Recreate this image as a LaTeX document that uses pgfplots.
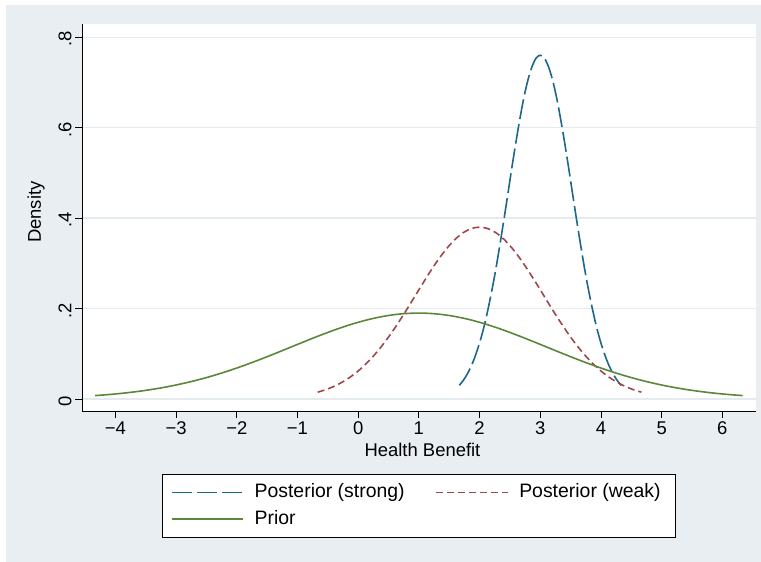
\documentclass[border=0pt]{standalone}
\usepackage{pgfplots}
\pgfplotsset{compat=1.18}
\usepackage{fontspec}
\setmainfont{Liberation Sans}
\definecolor{bgc}{RGB}{232,238,242}
\definecolor{gridc}{RGB}{228,235,239}
\definecolor{cblue}{RGB}{29,104,138}
\definecolor{cred}{RGB}{158,72,78}
\definecolor{cgreen}{RGB}{92,135,58}
\begin{document}
\begin{tikzpicture}
\useasboundingbox (0bp,0bp) rectangle (761bp,562bp);
\fill[white] (0bp,0bp) rectangle (761bp,562bp);
\fill[bgc] (6bp,0bp) rectangle (761bp,557bp);
\fill[white] (82bp,151bp) rectangle (755.7bp,538bp);
\begin{axis}[
  at={(82bp,151bp)}, anchor=south west,
  scale only axis, width=673.7bp, height=387bp,
  xmin=-4.55, xmax=6.55, ymin=-0.0265, ymax=0.829,
  axis x line*=bottom, axis y line*=left,
  axis line style={line width=1bp, black, -},
  tick align=outside, major tick length=7bp,
  tick style={line width=0.8bp, black},
  xtick={-4,-3,-2,-1,0,1,2,3,4,5,6},
  xticklabels={−4,−3,−2,−1,0,1,2,3,4,5,6},
  ytick={0,0.2,0.4,0.6,0.8},
  yticklabels={0,.2,.4,.6,.8},
  ymajorgrids, grid style={line width=1.2bp, gridc},
  ticklabel style={font=\fontsize{18.5}{21}\selectfont},
  yticklabel style={rotate=90, anchor=south, xshift=-2bp},
  xlabel={Health Benefit}, ylabel={Density},
  label style={font=\fontsize{18.5}{21}\selectfont},
  xlabel style={at={(rel axis cs:0.5054,-0.1176)}, anchor=base},
  ylabel style={at={(rel axis cs:-0.0683,0.514)}, anchor=center},
  legend columns=2,
  legend cell align=left,
  legend image code/.code={\draw[#1, line width=1.6bp] (0bp,0bp) -- (71.5bp,0bp); \path (80bp,0bp);},
  legend style={at={(0.5,-0.1628)}, anchor=north, draw=black, fill=white,
    line width=0.8bp,
    font=\fontsize{19.5}{22}\selectfont, inner xsep=9bp, inner ysep=7.5bp,
    row sep=5bp,
    nodes={inner ysep=2bp, text height=14bp, text depth=3.5bp},
    /tikz/every even column/.append style={column sep=29bp}},
]
\addplot[cblue, line width=1.6bp, dash pattern=on 20bp off 5bp, smooth] table {
1.667 0.03019
1.733 0.04134
1.800 0.05572
1.867 0.07389
1.933 0.09642
2.000 0.12380
2.067 0.15642
2.133 0.19447
2.200 0.23791
2.267 0.28639
2.333 0.33924
2.400 0.39542
2.467 0.45352
2.533 0.51184
2.600 0.56841
2.667 0.62114
2.733 0.66790
2.800 0.70669
2.867 0.73577
2.933 0.75378
3.000 0.75989
3.067 0.75378
3.133 0.73577
3.200 0.70669
3.267 0.66790
3.333 0.62114
3.400 0.56841
3.467 0.51184
3.533 0.45352
3.600 0.39542
3.667 0.33924
3.733 0.28639
3.800 0.23791
3.867 0.19447
3.933 0.15642
4.000 0.12380
4.067 0.09642
4.133 0.07389
4.200 0.05572
4.267 0.04134
4.333 0.03019
};
\addlegendentry{Posterior (strong)}
\addplot[cred, line width=1.6bp, dash pattern=on 7bp off 4bp, smooth] table {
-0.667 0.01509
-0.534 0.02067
-0.400 0.02786
-0.267 0.03694
-0.134 0.04821
0.000 0.06190
0.133 0.07821
0.266 0.09723
0.400 0.11895
0.533 0.14320
0.667 0.16962
0.800 0.19771
0.933 0.22676
1.067 0.25592
1.200 0.28421
1.333 0.31057
1.467 0.33395
1.600 0.35334
1.733 0.36788
1.867 0.37689
2.000 0.37994
2.133 0.37689
2.267 0.36788
2.400 0.35334
2.533 0.33395
2.667 0.31057
2.800 0.28421
2.934 0.25592
3.067 0.22676
3.200 0.19771
3.334 0.16962
3.467 0.14320
3.600 0.11895
3.734 0.09723
3.867 0.07821
4.000 0.06190
4.134 0.04821
4.267 0.03694
4.400 0.02786
4.534 0.02067
4.667 0.01509
};
\addlegendentry{Posterior (weak)\hspace*{4bp}}
\addplot[cgreen, line width=1.6bp, smooth] table {
-4.334 0.00755
-4.067 0.01034
-3.801 0.01393
-3.534 0.01847
-3.267 0.02410
-3.001 0.03095
-2.734 0.03910
-2.467 0.04862
-2.200 0.05948
-1.934 0.07160
-1.667 0.08481
-1.400 0.09886
-1.134 0.11338
-0.867 0.12796
-0.600 0.14210
-0.334 0.15529
-0.067 0.16698
0.200 0.17667
0.467 0.18394
0.733 0.18845
1.000 0.18997
1.267 0.18845
1.533 0.18394
1.800 0.17667
2.067 0.16698
2.334 0.15529
2.600 0.14210
2.867 0.12796
3.134 0.11338
3.400 0.09886
3.667 0.08481
3.934 0.07160
4.200 0.05948
4.467 0.04862
4.734 0.03910
5.001 0.03095
5.267 0.02410
5.534 0.01847
5.801 0.01393
6.067 0.01034
6.334 0.00755
};
\addlegendentry{Prior}
\end{axis}
\end{tikzpicture}
\end{document}
